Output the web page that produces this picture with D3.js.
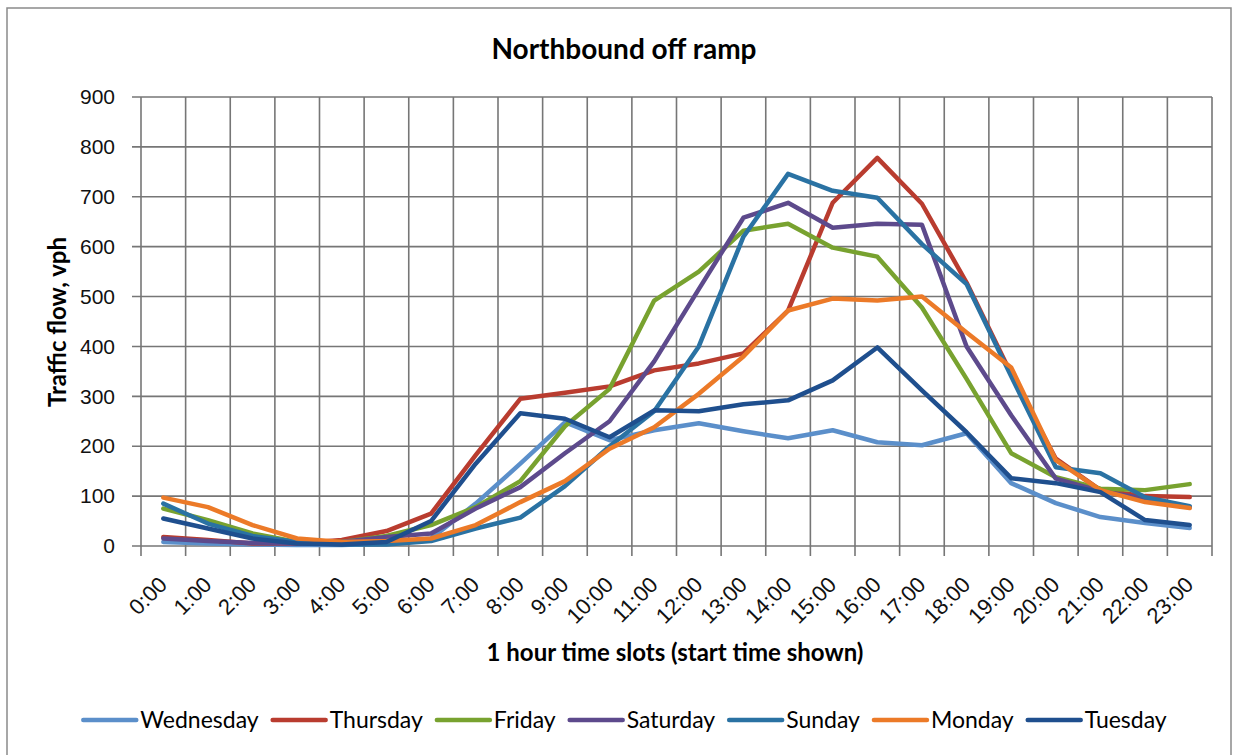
<!DOCTYPE html>
<html>
<head>
<meta charset="utf-8">
<script src="https://cdn.jsdelivr.net/npm/d3@7"></script>
<style>
  body { margin: 0; background: #fff; }
  svg { font-family: Lato, "Open Sans", sans-serif; }
  .grid line { stroke: #767676; stroke-width: 1.6; }
  .tick text { fill: #111; }
</style>
</head>
<body>
<svg id="chart" width="1236" height="755"></svg>
<script>
// hours of the day (category axis)
var hours = ["0:00","1:00","2:00","3:00","4:00","5:00","6:00","7:00","8:00","9:00","10:00","11:00",
  "12:00","13:00","14:00","15:00","16:00","17:00","18:00","19:00","20:00","21:00","22:00","23:00"];
var yTicks = [0, 100, 200, 300, 400, 500, 600, 700, 800, 900];

// traffic flow, vph
var wednesday = [8,5,3,2,2,5,15,85,165,248,212,232,246,230,216,232,208,202,226,126,86,58,46,36];
var thursday  = [18,12,5,5,12,30,65,182,295,307,320,352,366,386,472,688,778,686,528,345,175,112,100,98];
var friday    = [75,52,25,8,8,20,42,78,130,240,315,492,550,632,646,598,580,478,335,186,138,115,112,124];
var saturday  = [15,10,6,5,8,18,25,75,118,186,250,370,515,658,688,638,646,644,400,262,135,110,95,78];
var sunday    = [85,45,20,8,3,3,10,35,57,120,200,270,400,620,746,712,698,605,525,340,158,146,98,80];
var monday    = [97,78,42,15,8,10,15,42,88,130,195,238,305,380,472,496,492,500,428,358,172,112,88,76];
var tuesday   = [55,35,15,5,3,8,50,165,266,255,218,272,270,284,292,332,398,312,228,136,126,108,52,42];

var seriesNames = ["Wednesday","Thursday","Friday","Saturday","Sunday","Monday","Tuesday"];
var seriesValues = [wednesday, thursday, friday, saturday, sunday, monday, tuesday];
var seriesColors = ["#5b8fca","#b93c2f","#78a22f","#5d4a8c","#2a72a3","#ec7a28","#1f4f8e"];

var svg = d3.select("#chart");
var plotLeft = 141, plotRight = 1212, plotTop = 97, plotBottom = 546;

// chart frame
svg.append("rect")
    .attr("x", 7).attr("y", 8)
    .attr("width", 1224).attr("height", 770)
    .attr("fill", "none")
    .attr("stroke", "#8a8a8a")
    .attr("stroke-width", 1.5);

var x = d3.scaleBand().domain(hours).range([plotLeft, plotRight]);
var y = d3.scaleLinear().domain([0, 900]).range([plotBottom, plotTop]);
var cx = function(h) { return x(h) + x.bandwidth() / 2; };

// grid
var grid = svg.append("g").attr("class", "grid");
grid.selectAll("line.h")
  .data(yTicks)
  .enter().append("line")
    .attr("class", "h")
    .attr("x1", plotLeft - 9).attr("x2", plotRight)
    .attr("y1", function(d) { return y(d); })
    .attr("y2", function(d) { return y(d); });

var bounds = hours.map(function(h) { return x(h); }).concat([plotRight]);
grid.selectAll("line.v")
  .data(bounds)
  .enter().append("line")
    .attr("class", "v")
    .attr("y1", plotTop).attr("y2", plotBottom + 10)
    .attr("x1", function(d) { return d; })
    .attr("x2", function(d) { return d; });

// y axis labels
var yAxis = svg.append("g")
    .attr("transform", "translate(" + (plotLeft - 9) + ",0)")
    .call(d3.axisLeft(y).tickValues(yTicks).tickSize(0).tickPadding(17));
yAxis.select(".domain").remove();
yAxis.selectAll("text").style("font-size", "21px");

// x axis labels
var xAxis = svg.append("g")
    .attr("transform", "translate(0," + plotBottom + ")")
    .call(d3.axisBottom(x).tickSize(0));
xAxis.select(".domain").remove();
xAxis.selectAll("text")
    .style("font-size", "22px")
    .style("text-anchor", "end")
    .attr("x", 0).attr("y", 0).attr("dy", 0)
    .attr("transform", "translate(5,40) rotate(-45)");

// series lines
var line = d3.line()
    .x(function(d, i) { return cx(hours[i]); })
    .y(function(d) { return y(d); });

svg.append("g").selectAll("path")
  .data(seriesValues)
  .enter().append("path")
    .attr("d", line)
    .attr("fill", "none")
    .attr("stroke", function(d, i) { return seriesColors[i]; })
    .attr("stroke-width", 4.5)
    .attr("stroke-linejoin", "round")
    .attr("stroke-linecap", "round");

// titles
svg.append("text")
    .attr("x", 624).attr("y", 59)
    .attr("text-anchor", "middle")
    .style("font-size", "28px").style("font-weight", "bold")
    .text("Northbound off ramp");

svg.append("text")
    .attr("transform", "translate(66,322) rotate(-90)")
    .attr("text-anchor", "middle")
    .style("font-size", "24px").style("font-weight", "bold")
    .text("Traffic flow, vph");

svg.append("text")
    .attr("x", 675).attr("y", 661)
    .attr("text-anchor", "middle")
    .style("font-size", "24px").style("font-weight", "bold")
    .text("1 hour time slots (start time shown)");

// legend
var legend = svg.append("g");
var lx = 0;
seriesNames.forEach(function(name, i) {
  var g = legend.append("g").attr("transform", "translate(" + lx + ",0)");
  g.append("line")
      .attr("x1", 0).attr("x2", 53)
      .attr("y1", 0).attr("y2", 0)
      .attr("stroke", seriesColors[i])
      .attr("stroke-width", 4.5)
      .attr("stroke-linecap", "round");
  var t = g.append("text")
      .attr("x", 57).attr("y", 8)
      .style("font-size", "23px")
      .text(name);
  lx += 57 + t.node().getComputedTextLength() + 14;
});
legend.attr("transform", "translate(" + (625 - (lx - 14) / 2) + ",720)");
</script>
</body>
</html>
